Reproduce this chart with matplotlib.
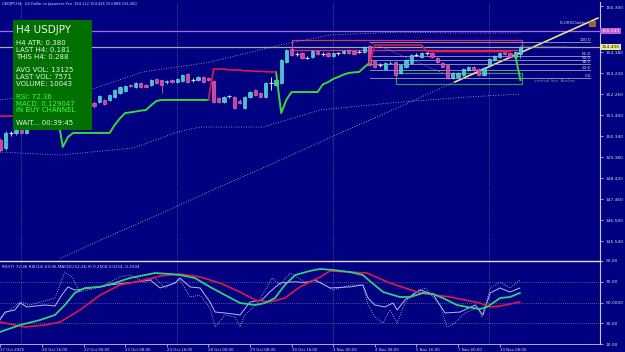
import matplotlib
matplotlib.use('Agg')
import matplotlib.pyplot as plt
from matplotlib.patches import Rectangle
import numpy as np

plt.rcParams['font.family'] = ['DejaVu Sans']

W, H, DPI = 625, 352, 100
BG = '#000080'
BULL = '#40c8c8'
BEAR = '#d040a0'
TXT = '#d8d8e8'

# ---------------- data ----------------
bars = list(range(2, 103))
opens = [150.16, 149.79, 150.48, 150.47, 150.60, 150.50, 150.70, 150.85, 150.75, 150.95,
         151.10, 150.98, 151.20, 151.35, 151.25, 151.50, 151.62, 151.55, 151.86, 151.90,
         151.99, 151.99, 152.14, 152.31, 152.40, 152.67, 152.58, 152.76, 152.67, 152.67,
         152.95, 152.90, 152.81, 152.90, 152.81, 152.85, 153.17, 152.90, 152.90, 153.04,
         152.99, 152.85, 152.08, 151.89, 152.15, 152.12, 151.95, 151.62, 152.12, 152.44,
         152.30, 152.12, 152.76, 152.67, 152.76, 153.72, 154.32, 154.09, 154.13, 153.91,
         153.95, 154.23, 154.09, 154.13, 154.00, 154.13, 154.13, 154.27, 154.23, 154.18,
         154.18, 154.45, 153.77, 153.60, 153.40, 153.68, 153.72, 153.22, 153.49, 153.68,
         154.04, 153.95, 154.13, 154.12, 153.91, 153.68, 153.59, 152.99, 153.04, 153.13,
         153.36, 153.49, 153.40, 153.13, 153.60, 153.81, 153.95, 154.18, 154.13, 153.95,
         154.11]
closes = [149.70, 150.48, 150.47, 150.60, 150.50, 150.70, 150.85, 150.75, 150.95, 151.10,
          150.98, 151.20, 151.35, 151.25, 151.50, 151.62, 151.55, 151.82, 151.70, 152.17,
          151.82, 152.21, 152.44, 152.58, 152.63, 152.62, 152.76, 152.58, 152.58, 152.90,
          152.76, 152.67, 152.85, 152.81, 152.95, 153.13, 152.81, 152.91, 153.04, 152.81,
          152.90, 151.90, 151.90, 152.12, 152.16, 151.62, 151.86, 152.12, 152.35, 152.21,
          152.12, 152.76, 152.77, 152.90, 153.81, 154.27, 154.04, 154.10, 153.91, 153.92,
          154.23, 154.09, 154.10, 154.00, 154.13, 154.14, 154.23, 154.13, 154.09, 154.19,
          154.41, 153.59, 153.49, 153.61, 153.68, 153.70, 153.13, 153.59, 153.81, 154.04,
          154.05, 154.13, 154.12, 153.95, 153.72, 153.49, 152.99, 153.22, 153.22, 153.40,
          153.49, 153.36, 153.13, 153.45, 153.86, 154.00, 154.13, 154.09, 153.95, 154.18,
          154.40]
highs = [150.25, 150.55, 150.58, 150.68, 150.66, 150.78, 150.92, 150.90, 151.02, 151.18,
         151.15, 151.26, 151.42, 151.40, 151.56, 151.70, 151.68, 151.88, 151.92, 152.22,
         152.05, 152.26, 152.48, 152.62, 152.68, 152.72, 152.80, 152.82, 152.72, 152.95,
         153.00, 152.96, 152.92, 152.96, 153.00, 153.18, 153.22, 152.98, 153.10, 153.08,
         153.05, 152.90, 152.14, 152.18, 152.22, 152.18, 152.02, 152.18, 152.40, 152.48,
         152.34, 152.80, 153.04, 152.95, 153.86, 154.32, 154.73, 154.18, 154.18, 153.98,
         154.28, 154.28, 154.16, 154.18, 154.18, 154.20, 154.28, 154.32, 154.28, 154.26,
         154.46, 154.50, 153.82, 153.68, 153.72, 153.78, 153.76, 153.64, 153.86, 154.08,
         154.12, 154.18, 154.20, 154.16, 153.96, 153.72, 153.64, 153.26, 153.28, 153.44,
         153.54, 153.54, 153.44, 153.50, 153.90, 154.04, 154.18, 154.22, 154.18, 154.22,
         154.43]
lows = [149.62, 149.72, 150.36, 150.40, 150.42, 150.45, 150.64, 150.68, 150.70, 150.90,
        150.92, 150.94, 151.15, 151.18, 151.20, 151.44, 151.48, 151.50, 151.64, 151.85,
        151.76, 151.95, 152.10, 152.26, 152.36, 152.56, 152.52, 152.52, 152.52, 152.62,
        152.70, 152.31, 152.74, 152.76, 152.76, 152.80, 152.76, 152.82, 152.85, 152.76,
        152.84, 151.84, 151.85, 151.84, 152.08, 151.56, 151.80, 151.58, 152.08, 152.16,
        152.06, 152.08, 152.44, 152.62, 152.72, 153.68, 153.98, 154.00, 153.86, 153.84,
        153.90, 154.04, 154.02, 153.95, 153.96, 154.06, 154.08, 154.08, 154.04, 154.12,
        154.14, 153.54, 153.44, 153.50, 153.36, 153.62, 153.08, 153.18, 153.44, 153.64,
        153.98, 153.90, 154.06, 153.90, 153.68, 153.44, 152.94, 152.94, 153.00, 153.08,
        153.32, 153.32, 153.08, 153.08, 153.55, 153.76, 153.90, 154.04, 153.90, 153.90,
        153.89]

nan = float('nan')
st_green = ([nan] * 11 + [151.25, 149.84, 150.30] + [150.48] * 8 +
            [150.85, 151.15, 151.39, 151.42, 151.46, 151.50, 151.53, 151.75, 151.94] + [151.99] * 10 +
            [nan] * 12 + [153.27, 151.39, 152.00] + [152.35] * 6 +
            [152.70, 152.80, 152.95, 153.04, 153.15, 153.22, 153.25, 153.27, 153.49, 153.68] +
            [nan] * 27 + [154.04, 152.90])
st_red = ([151.25] * 12 + [nan] * 28 + [151.99] +
          [153.40, 153.40, 153.40, 153.36, 153.36, 153.36, 153.32, 153.32, 153.30, 153.30, 153.28, 153.27, 153.27] +
          [nan] * 17 + [153.68] + [154.50] * 10 + [154.20] * 17 + [nan, nan])

upper_idx = [1.9, 20.2, 29.4, 38.8, 42.3, 55.8, 65.4, 78.8, 88.5, 102]
upper_val = [151.99, 152.53, 153.27, 153.59, 153.72, 154.50, 154.96, 155.09, 155.05, 155.05]
lower_idx = [1.9, 13.5, 27.5, 36, 40.4, 52.5, 55.2, 63.5, 78.8, 91.7, 102]
lower_val = [149.61, 149.47, 149.79, 150.52, 150.75, 150.75, 150.94, 151.53, 151.89, 152.12, 152.26]

price_ticks = [154.18, 153.22, 152.26, 151.30, 150.34, 149.38, 148.42, 147.46, 146.50, 145.54]
price_labels = ['154.180', '153.220', '152.260', '151.300', '150.340', '149.380',
                '148.420', '147.460', '146.500', '145.540']

fib_levels = [154.64, 154.00, 153.81, 153.63, 153.36, 152.99]
fib_names = ['100.0', '61.8', '50.0', '38.2', '23.6', '0.0']

date_pos = [2, 10, 18, 26, 34, 42, 50, 58, 66, 74, 82, 90, 98]
date_labels = ['17 Oct 2025', '20 Oct 16:00', '22 Oct 00:00', '23 Oct 08:00', '24 Oct 16:00',
               '28 Oct 00:00', '29 Oct 08:00', '30 Oct 16:00', '3 Nov 00:00', '4 Nov 08:00',
               '5 Nov 16:00', '7 Nov 00:00', '10 Nov 08:00']

g_idx = [1.9, 5.8, 9.6, 12.5, 14.4, 16.3, 18.3, 21.2, 24, 26.9, 28.8, 31.7, 34.6, 36.5, 39.4,
         42.3, 45.2, 48.1, 51, 52.9, 54.8, 56.7, 58.7, 61.5, 63.5, 66, 69.2, 71.7, 73.5, 75.6,
         78.8, 80.8, 83.3, 85.2, 87.1, 89.8, 91.7, 94.2, 95.6, 98.1, 100, 101.9]
g_val = [21.6, 28.3, 33.1, 38, 47.6, 59.2, 64, 65, 68.8, 73.6, 75.5, 78.4, 77.5, 76.5, 73.6,
         65, 57.2, 49.5, 47.6, 49.5, 54.3, 66.9, 76.5, 80.4, 82.3, 81.3, 79.4, 76.5, 68.8, 60.1,
         55.3, 55.3, 59.2, 58.2, 54.3, 47.6, 45.7, 43.7, 45.7, 54.3, 55.3, 59.2]
r_idx = [1.9, 6.7, 10.6, 13.5, 17.3, 21.2, 25, 28.8, 32.7, 36.5, 40.4, 44.2, 48.1, 51, 53.8,
         56.7, 59.6, 63.5, 65.4, 69.2, 72.5, 76.9, 82.7, 88.5, 94.2, 96.2, 98.1, 101.9]
r_val = [31.2, 26.4, 28.3, 31.2, 42.8, 57.2, 66.9, 70.7, 75.5, 77.5, 74.6, 68.8, 60.1, 52.4, 50.5,
         54.3, 65, 74.6, 80.4, 79.4, 78.4, 68.8, 59.2, 55.3, 49.5, 45.7, 46.6, 50.5]
w_idx = [1.9, 2.9, 4.8, 5.8, 7.1, 10.6, 12.5, 13.8, 15, 16.3, 19.2, 23, 27.9, 30.8, 32.7, 35.6,
         36.5, 38.5, 40.4, 42.3, 43.3, 45.2, 48.1, 50, 52.3, 53.8, 55.8, 58.7, 60.6, 62.5, 65.4,
         69.2, 71.7, 72.7, 74, 75.9, 77.5, 78.3, 79.8, 82.7, 85.2, 87.5, 90.4, 93.3, 94.8, 96.2,
         98.1, 100, 101.9]
w_val = [33.1, 40.8, 42.8, 49.5, 45.7, 47.6, 46.6, 57.2, 65, 62, 64, 66.9, 69.8, 71.7, 64, 68.8,
         73.6, 65, 64, 50.5, 40.8, 39.9, 38, 50.5, 52.4, 60.1, 68.8, 70, 69, 71.7, 64,
         65, 66.9, 54.3, 47.6, 45.7, 49.5, 42.8, 52.4, 62, 58, 39.9, 40.8, 47.6, 38, 59.2,
         64, 60.1, 64]
d_idx = [1.9, 5.8, 7.7, 12.5, 14.4, 15.8, 17.3, 21.2, 25, 26.9, 29.8, 31.7, 33.7, 36.5, 38.5,
         40.4, 42.3, 43.3, 45.2, 47.1, 48.1, 49, 51.5, 52.9, 54.2, 55.8, 57.7, 60.6, 63.5, 65.9,
         69.2, 71.7, 72.7, 74, 75.6, 76.9, 78.3, 79.8, 81.7, 83.7, 86.5, 87.9, 89.4, 91.3, 93.8,
         94.6, 96.2, 98.1, 100, 101.9]
d_val = [35, 50.5, 47.6, 54.3, 79.4, 74.6, 60.1, 65, 74.6, 76.5, 69.8, 73.6, 64, 71.7, 55.3,
         57.2, 44.7, 26.4, 38, 36, 26.4, 38, 49.5, 62, 73.6, 66.9, 78.4, 69.8, 69.8, 62,
         66.9, 66.9, 47.6, 36, 30.2, 42.8, 30.2, 49.5, 60.1, 64, 47.6, 26.4, 30.2, 40, 44.7,
         36, 64, 69.8, 64, 71.7]

info_lines = [('H4 ATR: 0.380', 43, 'w'), ('LAST H4: 0.181', 50, 'w'), ('THIS H4: 0.288', 57, 'w'),
              ('AVG VOL: 13125', 70, 'w'), ('LAST VOL: 7571', 77, 'w'), ('VOLUME: 10043', 84, 'w'),
              ('RSI: 72.36', 97, 'g'), ('MACD: 0.129047', 104, 'g'), ('IN BUY CHANNEL', 110, 'g'),
              ('WAIT... 00:39:45', 123, 'w')]

# ---------------- figure ----------------
fig = plt.figure(figsize=(W / DPI, H / DPI), dpi=DPI, facecolor=BG)


def fy(py):
    return 1 - py / H


ax = fig.add_axes([0, fy(260), 600 / W, (260 - 2) / H])
ax2 = fig.add_axes([0, fy(344), 600 / W, (344 - 261) / H])
XMIN, XMAX = 1.923, 117.31
for a in (ax, ax2):
    a.set_facecolor(BG)
    a.set_xlim(XMIN, XMAX)
    for s in ('left', 'top', 'bottom'):
        a.spines[s].set_visible(False)
    a.spines['right'].set_color('#c8c8d8')
    a.spines['right'].set_linewidth(0.8)
ax.set_ylim(144.672, 156.466)
ax2.set_ylim(10, 90)

# vertical grid
for gx in (6, 36, 66, 96):
    ax.axvline(gx, color='#9090b8', lw=0.5, ls=(0, (1, 2)))
    ax2.axvline(gx, color='#9090b8', lw=0.5, ls=(0, (1, 2)))

# bands
ax.plot(upper_idx, upper_val, color='#b0b0d0', lw=0.6, ls=(0, (1, 2)))
ax.plot(lower_idx, lower_val, color='#b0b0d0', lw=0.6, ls=(0, (1, 2)))

# horizontal lines
ax.axhline(155.14, color='#a070e0', lw=0.9)
ax.axhline(154.40, color='#a8a8a8', lw=0.9)

# trend line
slope = (155.73 - 152.81) / (116.9 - 89.4)
ax.plot([13.5, 89.4], [152.81 - slope * (89.4 - 13.5), 152.81], color='#c0c0d0', lw=0.6, ls=(0, (1, 2)))
ax.plot([89.4, 116.9], [152.81, 155.73], color='#f0e08c', lw=1.2)
# fib anchor diagonal
ax.plot([73, 89.4], [154.64, 152.99], color='#9090c0', lw=0.5, ls=(0, (2, 2)))

# rectangles
ax.add_patch(Rectangle((58, 154.27), 102.3 - 58, 154.73 - 154.27, fill=False, ec='#e03060', lw=0.9))
ax.add_patch(Rectangle((78, 152.72), 102.3 - 78, 153.22 - 152.72, fill=False, ec='#2e9a50', lw=0.9))

# fib
for lv, nm in zip(fib_levels, fib_names):
    ax.plot([73, 115.3], [lv, lv], color='#a0a0b0', lw=0.6)
    ax.text(115.6, lv + 0.02, nm, color=TXT, fontsize=3.0, ha='right', va='bottom')
ax.text(106.5, 154.42, 'Fibonacci Retracement', color='#7070a8', fontsize=3.0, ha='center', va='center')
ax.text(108.5, 152.86, 'vertical line  Anchor', color='#8080b0', fontsize=3.0, ha='center', va='center')

# candles
x = np.array(bars, dtype=float)
o = np.array(opens); c = np.array(closes); h = np.array(highs); l = np.array(lows)
up = c > o + 0.015
dn = c < o - 0.015
dj = ~(up | dn)
ax.vlines(x[up], l[up], h[up], color=BULL, lw=0.7, zorder=3)
ax.vlines(x[dn], l[dn], h[dn], color=BEAR, lw=0.7, zorder=3)
ax.vlines(x[dj], l[dj], h[dj], color='#e0e0e0', lw=0.7, zorder=3)
ax.bar(x[up], (c - o)[up], bottom=o[up], width=0.62, color=BULL, edgecolor='#80e8e8', lw=0.4, zorder=4)
ax.bar(x[dn], (o - c)[dn], bottom=c[dn], width=0.62, color=BEAR, edgecolor='#f080c0', lw=0.4, zorder=4)
ax.hlines(o[dj], x[dj] - 0.4, x[dj] + 0.4, color='#e0e0e0', lw=0.8, zorder=4)

# supertrend
ax.plot(bars, st_green, color='#38d838', lw=1.4, zorder=5)
ax.plot(bars, st_red, color='#e01848', lw=1.2, zorder=5)

# price axis
ax.yaxis.tick_right()
ax.set_yticks(price_ticks + [156.3])
ax.set_yticklabels(price_labels + ['156.300'])
ax.tick_params(axis='y', colors=TXT, labelsize=3.2, length=2.5, width=0.5, pad=1.5)
ax.get_yticklabels()[-1].set_va('top')
ax.set_xticks([])

# price tags
fig.text(601.5 / W, fy(31), '155.143', fontsize=3.2, color='#f8e0f8', va='center', ha='left',
         bbox=dict(boxstyle='square,pad=0.25', fc='#c060d0', ec='none'))
fig.text(601.5 / W, fy(47), '154.400', fontsize=3.2, color='#202000', va='center', ha='left',
         bbox=dict(boxstyle='square,pad=0.25', fc='#e8e890', ec='none'))

# labels near trend
ax.text(114.6, 155.5, 'FLOR(D)wkly', color=TXT, fontsize=3.0, ha='right', va='center')
ax.add_patch(Rectangle((115.2, 155.38), 1.2, 0.22, fc='#a06020', ec='#e0a040', lw=0.4, zorder=6))

# info box
ax.add_patch(Rectangle((XMIN + 13 / 5.2, 154.18 - (130 - 52) * 0.04571), 79 / 5.2, 110 * 0.04571,
                       fc='#007000', ec='none', zorder=8))
fig.text(16 / W, fy(30), 'H4 USDJPY', color='#f0f0f0', fontsize=7.5, va='center', zorder=9)
for t, yy, col in info_lines:
    fig.text(16 / W, fy(yy), t, color='#f0f0f0' if col == 'w' else '#40ff40', fontsize=5,
             va='center', zorder=9)

# title
fig.text(2 / W, fy(4), 'USDJPY,H4:  US Dollar vs Japanese Yen  154.112 154.426 153.888 154.400',
         color=TXT, fontsize=2.6, va='center')

# indicator panel
ax2.spines['top'].set_visible(True)
ax2.spines['top'].set_color('#e0e0e0')
ax2.spines['top'].set_linewidth(1.0)
ax2.spines['bottom'].set_visible(True)
ax2.spines['bottom'].set_color('#c8c8d8')
ax2.spines['bottom'].set_linewidth(0.6)
for lv in (70, 50, 30):
    ax2.axhline(lv, color='#a0a0c0', lw=0.5, ls=(0, (1, 2)))
ax2.plot(d_idx, d_val, color='#c0c0e0', lw=0.6, ls=(0, (1, 1.5)))
ax2.plot(w_idx, w_val, color='#b8b8f0', lw=0.7)
ax2.plot(r_idx, r_val, color='#e01848', lw=1.2)
ax2.plot(g_idx, g_val, color='#30d080', lw=1.3)
ax2.yaxis.tick_right()
ax2.set_yticks([90, 70, 50, 30, 10])
ax2.set_yticklabels(['90.00', '70.00', '50.0000', '30.00', '10.00'])
ax2.tick_params(axis='y', colors=TXT, labelsize=3.2, length=2.5, width=0.5, pad=1.5)
ax2.set_xticks(date_pos)
ax2.set_xticklabels(date_labels)
ax2.tick_params(axis='x', colors=TXT, labelsize=2.8, length=2, width=0.5, pad=0.8)
for lb in ax2.get_xticklabels():
    lb.set_ha('left')
ax2.text(0.004, 0.93, 'RSI(7) 72.36 RSI(14) 63.06 MACDC(12,26,9) 0.2504 0.0214 -0.2504',
         transform=ax2.transAxes, color=TXT, fontsize=3.0, va='center')

fig.savefig('out.png', dpi=DPI, facecolor=BG)
